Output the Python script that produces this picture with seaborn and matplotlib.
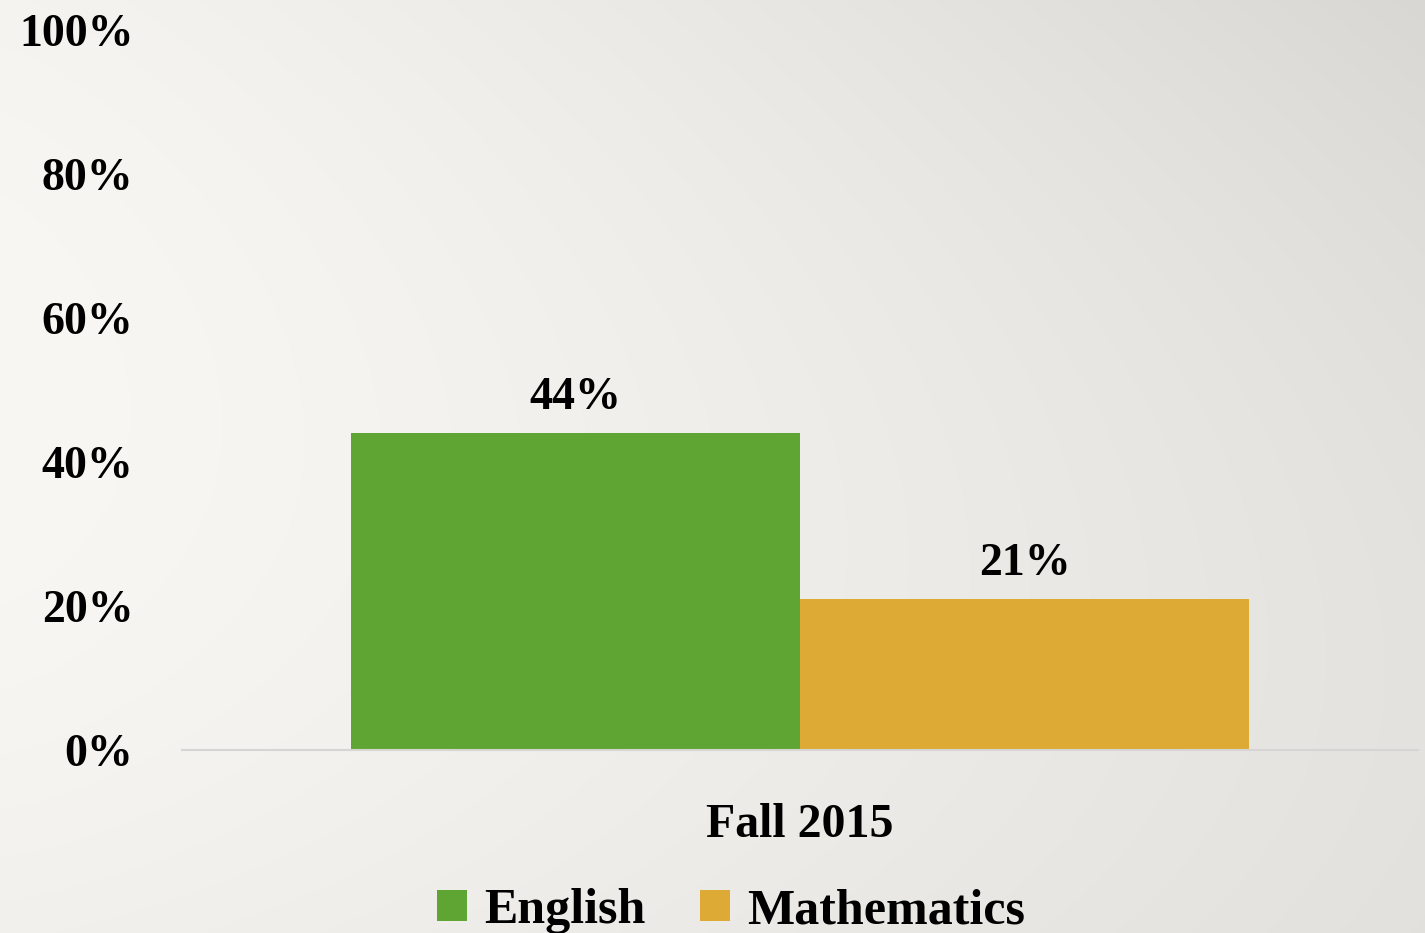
import seaborn as sns
import matplotlib.pyplot as plt
import numpy as np
import pandas as pd

# data
terms = ['Fall 2015', 'Fall 2015']
subjects = ['English', 'Mathematics']
values = [44, 21]
bar_colors = ['#5FA533', '#DDAA35']
yticks = [0, 20, 40, 60, 80, 100]

df = pd.DataFrame({'term': terms, 'subject': subjects, 'value': values})

sns.set_style('white')
plt.rcParams['font.family'] = ['Liberation Serif', 'DejaVu Serif']
plt.rcParams['font.weight'] = 'bold'
plt.rcParams['text.color'] = 'black'
plt.rcParams['xtick.color'] = 'black'
plt.rcParams['ytick.color'] = 'black'

W, H = 1425, 933
fig = plt.figure(figsize=(W / 100, H / 100), dpi=100)

# soft grey background gradient (lighter left, darker top-right)
xx, yy = np.meshgrid(np.arange(W) / W, np.arange(H) / H)
drop = 28 * xx ** 1.3 * (1 - 0.45 * yy) + 6 * ((yy * H - 400) / 500) ** 2
L = 247 - drop
bg = np.dstack([L + 1, L, L - 4]).clip(0, 255) / 255
fig.figimage(bg, 0, 0, zorder=-5)

ax = fig.add_axes([182 / W, (H - 750) / H, (1418 - 182) / W, 720 / H])
ax.set_facecolor('none')
ax.set_zorder(2)

sns.barplot(data=df, x='term', y='value', hue='subject', palette=bar_colors,
            width=0.727, gap=0, saturation=1, linewidth=0, ax=ax, legend=True)

ax.set_ylim(0, 100)
ax.set_yticks(yticks)
ax.set_yticklabels([f'{t}%' for t in yticks], fontsize=33, fontweight='bold')
ax.tick_params(axis='y', length=0, pad=35)
ax.tick_params(axis='x', length=0, pad=38, labelsize=34.5)
for lbl in ax.get_xticklabels():
    lbl.set_fontweight('bold')
ax.set_xlabel('')
ax.set_ylabel('')

for c in ax.containers:
    ax.bar_label(c, labels=[f'{v:.0f}%' for v in c.datavalues], padding=10,
                 fontsize=33, fontweight='bold', color='black')

for s in ['top', 'right', 'left']:
    ax.spines[s].set_visible(False)
ax.spines['bottom'].set_color('#D6D5D3')
ax.spines['bottom'].set_linewidth(1.5)

handles, labels = ax.get_legend_handles_labels()
ax.legend(handles, labels, loc='center', bbox_to_anchor=(731 / W, 22 / H),
          bbox_transform=fig.transFigure, ncol=2, frameon=False,
          prop={'size': 36, 'weight': 'bold'}, handlelength=0.6, handleheight=0.6,
          handletextpad=0.33, columnspacing=1.1, borderpad=0)

plt.savefig('out.png', dpi=100)
